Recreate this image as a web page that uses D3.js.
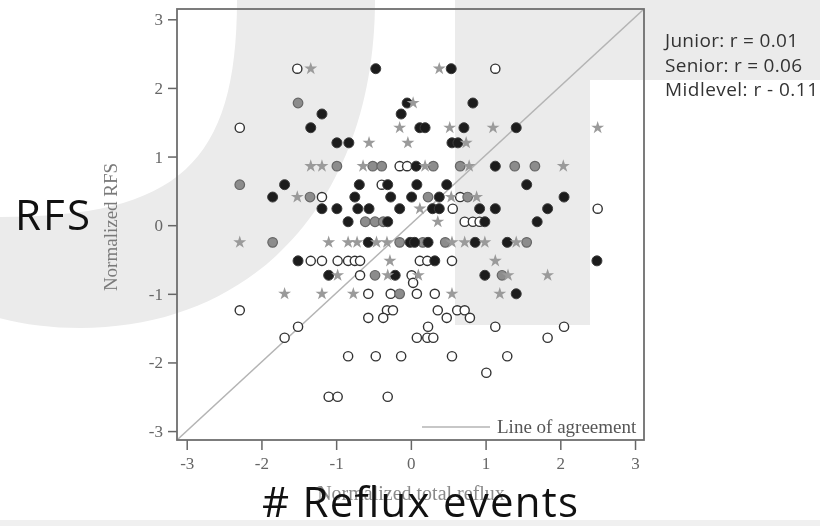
<!DOCTYPE html>
<html>
<head>
<meta charset="utf-8">
<script src="https://cdn.jsdelivr.net/npm/d3@7"></script>
<style>
  body { margin: 0; background: #fff; }
  svg { display: block; }
</style>
</head>
<body>
<svg id="chart" width="820" height="526"></svg>
<script>
// values (normalized total reflux, normalized RFS)
var openPts = [
  [-1.52, 2.28], [1.13, 2.28], [-2.29, 1.42],
  [-0.15, 0.86], [-0.05, 0.86], [-0.39, 0.59], [-1.19, 0.41], [0.66, 0.41],
  [0.56, 0.24], [2.50, 0.24], [0.72, 0.05], [0.83, 0.05], [0.92, 0.05],
  [-1.34, -0.52], [-1.19, -0.52], [-0.98, -0.52], [-0.84, -0.52], [-0.75, -0.52],
  [-0.68, -0.52], [0.12, -0.52], [0.22, -0.52], [0.55, -0.52],
  [-0.68, -0.73], [0.01, -0.73], [0.03, -0.84],
  [-0.57, -1.0], [-0.27, -1.0], [0.08, -1.0], [0.32, -1.0],
  [-2.29, -1.24], [-0.32, -1.24], [-0.24, -1.24], [0.36, -1.24], [0.62, -1.24], [0.72, -1.24],
  [-0.57, -1.35], [-0.37, -1.35], [0.48, -1.35], [0.79, -1.35],
  [-1.51, -1.48], [0.23, -1.48], [1.13, -1.48], [2.05, -1.48],
  [-1.69, -1.64], [0.08, -1.64], [0.22, -1.64], [0.30, -1.64], [1.83, -1.64],
  [-0.84, -1.91], [-0.47, -1.91], [-0.13, -1.91], [0.55, -1.91], [1.29, -1.91],
  [1.01, -2.15], [-1.10, -2.5], [-0.98, -2.5], [-0.31, -2.5]
];

var darkPts = [
  [-0.47, 2.28], [0.54, 2.28], [-0.05, 1.78], [0.83, 1.78],
  [-1.19, 1.62], [-0.13, 1.62],
  [-1.34, 1.42], [0.12, 1.42], [0.19, 1.42], [0.71, 1.42], [1.41, 1.42],
  [-0.99, 1.20], [-0.83, 1.20], [0.55, 1.20], [0.63, 1.20],
  [0.07, 0.86], [1.13, 0.86],
  [-1.69, 0.59], [-0.69, 0.59], [-0.31, 0.59], [0.08, 0.59], [0.48, 0.59], [1.55, 0.59],
  [-1.85, 0.41], [-0.75, 0.41], [-0.27, 0.41], [0.01, 0.41], [0.38, 0.41], [2.05, 0.41],
  [-1.19, 0.24], [-0.99, 0.24], [-0.71, 0.24], [-0.56, 0.24], [-0.15, 0.24], [0.29, 0.24],
  [0.38, 0.24], [0.92, 0.24], [1.13, 0.24], [1.83, 0.24],
  [-0.84, 0.05], [-0.31, 0.05], [0.99, 0.05], [1.69, 0.05],
  [-0.57, -0.25], [-0.01, -0.25], [0.05, -0.25], [0.23, -0.25], [0.86, -0.25], [1.29, -0.25],
  [-1.51, -0.52], [0.32, -0.52], [2.49, -0.52],
  [-1.10, -0.73], [-0.21, -0.73], [0.99, -0.73], [1.41, -1.0]
];

var greyPts = [
  [-1.51, 1.78],
  [-0.99, 0.86], [-0.51, 0.86], [-0.39, 0.86], [0.30, 0.86], [0.66, 0.86], [1.39, 0.86], [1.66, 0.86],
  [-2.29, 0.59], [-1.35, 0.41], [0.23, 0.41], [0.76, 0.41],
  [-0.61, 0.05], [-0.48, 0.05], [-0.37, 0.05],
  [-1.85, -0.25], [-0.15, -0.25], [0.16, -0.25], [0.46, -0.25], [1.55, -0.25],
  [-0.48, -0.73], [1.22, -0.73], [-0.15, -1.0]
];

var starPts = [
  [-1.34, 2.28], [0.38, 2.28], [0.03, 1.78],
  [-0.15, 1.42], [0.52, 1.42], [1.10, 1.42], [2.50, 1.42],
  [-0.56, 1.20], [-0.04, 1.20], [0.74, 1.20],
  [-1.34, 0.86], [-1.19, 0.86], [-0.64, 0.86], [0.19, 0.86], [0.78, 0.86], [2.04, 0.86],
  [-1.52, 0.41], [0.54, 0.41], [0.88, 0.41], [0.12, 0.24], [0.36, 0.05],
  [-2.29, -0.25], [-1.10, -0.25], [-0.84, -0.25], [-0.72, -0.25], [-0.46, -0.25], [-0.32, -0.25],
  [0.55, -0.25], [0.72, -0.25], [0.99, -0.25], [1.41, -0.25],
  [-0.28, -0.52], [1.13, -0.52],
  [-0.98, -0.73], [-0.31, -0.73], [0.10, -0.73], [1.30, -0.73], [1.83, -0.73],
  [-1.69, -1.0], [-1.19, -1.0], [-0.77, -1.0], [0.55, -1.0], [1.19, -1.0]
];

var xTicks = [-3, -2, -1, 0, 1, 2, 3];
var yTicks = [-3, -2, -1, 0, 1, 2, 3];
var corrLines = ["Junior: r = 0.01", "Senior: r = 0.06", "Midlevel: r - 0.11"];

var svg = d3.select('#chart');

// faint logo shapes behind everything
svg.append('path')
  .attr('d', 'M375,0 C375,197 257,328 80,328 C-97,328 -215,197 -215,0 Z ' +
             'M237,0 C237,163 178,217 0,217 C-178,217 -237,163 -237,0 Z')
  .attr('fill', '#ebebeb')
  .attr('fill-rule', 'evenodd');
svg.append('rect').attr('x', 455).attr('y', 0).attr('width', 365).attr('height', 80).attr('fill', '#ebebeb');
svg.append('rect').attr('x', 455).attr('y', 0).attr('width', 135).attr('height', 325).attr('fill', '#ebebeb');
svg.append('rect').attr('x', 0).attr('y', 520).attr('width', 820).attr('height', 6).attr('fill', '#f0f0f0');

var defs = svg.append('defs');
defs.append('filter').attr('id', 'soft')
  .append('feGaussianBlur').attr('stdDeviation', 0.55);

var x = d3.scaleLinear().domain([-3.13, 3.12]).range([177, 644]);
var y = d3.scaleLinear().domain([-3.13, 3.15]).range([440, 9]);

var chart = svg.append('g').attr('filter', 'url(#soft)');

// axes (ticks only, frame drawn below)
var xAxis = chart.append('g')
  .attr('transform', 'translate(0,440)')
  .call(d3.axisBottom(x).tickValues(xTicks).tickSize(10).tickPadding(7).tickFormat(function (d) { return String(d); }));
var yAxis = chart.append('g')
  .attr('transform', 'translate(177,0)')
  .call(d3.axisLeft(y).tickValues(yTicks).tickSize(9).tickPadding(5).tickFormat(function (d) { return String(d); }));

[xAxis, yAxis].forEach(function (ax) {
  ax.select('.domain').remove();
  ax.selectAll('line').attr('stroke', '#666').attr('stroke-width', 1.5);
  ax.selectAll('text')
    .attr('fill', '#666')
    .style('font-family', '"Liberation Serif", "DejaVu Serif", serif')
    .style('font-size', '17px');
});

// line of agreement
chart.append('line')
  .attr('x1', x(x.domain()[0])).attr('y1', y(y.domain()[0]))
  .attr('x2', x(x.domain()[1])).attr('y2', y(y.domain()[1]))
  .attr('stroke', '#b4b4b4')
  .attr('stroke-width', 1.6);

// plot frame
chart.append('rect')
  .attr('x', 177).attr('y', 9)
  .attr('width', 467).attr('height', 431)
  .attr('fill', 'none')
  .attr('stroke', '#6e6e6e')
  .attr('stroke-width', 1.8);

var marks = chart.append('g');

marks.selectAll('.open-dot')
  .data(openPts).enter().append('circle')
  .attr('class', 'open-dot')
  .attr('cx', function (d) { return x(d[0]); })
  .attr('cy', function (d) { return y(d[1]); })
  .attr('r', 4.6)
  .attr('fill', '#fff')
  .attr('stroke', '#333')
  .attr('stroke-width', 1.4);

marks.selectAll('.grey-dot')
  .data(greyPts).enter().append('circle')
  .attr('class', 'grey-dot')
  .attr('cx', function (d) { return x(d[0]); })
  .attr('cy', function (d) { return y(d[1]); })
  .attr('r', 4.8)
  .attr('fill', '#8c8c8c')
  .attr('stroke', '#666')
  .attr('stroke-width', 1.2);

marks.selectAll('.dark-dot')
  .data(darkPts).enter().append('circle')
  .attr('class', 'dark-dot')
  .attr('cx', function (d) { return x(d[0]); })
  .attr('cy', function (d) { return y(d[1]); })
  .attr('r', 5)
  .attr('fill', '#1e1e1e')
  .attr('stroke', '#3a3a3a')
  .attr('stroke-width', 1);

marks.selectAll('.star-dot')
  .data(starPts).enter().append('path')
  .attr('class', 'star-dot')
  .attr('d', d3.symbol().type(d3.symbolStar).size(52))
  .attr('transform', function (d) { return 'translate(' + x(d[0]) + ',' + y(d[1]) + ')'; })
  .attr('fill', '#9a9a9a');

// legend
chart.append('line')
  .attr('x1', 422).attr('x2', 490).attr('y1', 427).attr('y2', 427)
  .attr('stroke', '#b4b4b4').attr('stroke-width', 1.6);
chart.append('text')
  .attr('x', 497).attr('y', 433)
  .attr('fill', '#555')
  .style('font-family', '"Liberation Serif", serif')
  .style('font-size', '19px')
  .text('Line of agreement');

// original axis titles
chart.append('text')
  .attr('transform', 'translate(117,227) rotate(-90)')
  .attr('text-anchor', 'middle')
  .attr('fill', '#7a7a7a')
  .style('font-family', '"Liberation Serif", serif')
  .style('font-size', '19px')
  .text('Normalized RFS');
chart.append('text')
  .attr('x', 411).attr('y', 500)
  .attr('text-anchor', 'middle')
  .attr('fill', '#8a8a8a')
  .style('font-family', '"Liberation Serif", serif')
  .style('font-size', '20px')
  .text('Normalized total reflux');

// overlaid slide labels
svg.append('text')
  .attr('x', 15).attr('y', 230)
  .attr('textLength', 75)
  .attr('fill', '#111')
  .style('font-family', '"Open Sans", sans-serif')
  .style('font-size', '42px')
  .text('RFS');
svg.append('text')
  .attr('x', 262).attr('y', 517)
  .attr('textLength', 316)
  .attr('fill', '#111')
  .style('font-family', '"Open Sans", sans-serif')
  .style('font-size', '42px')
  .text('# Reflux events');

var corrWidths = [133, 137, 153];
svg.selectAll('.corr')
  .data(corrLines).enter().append('text')
  .attr('class', 'corr')
  .attr('x', 665)
  .attr('y', function (d, i) { return 47 + i * 24.5; })
  .attr('textLength', function (d, i) { return corrWidths[i]; })
  .attr('fill', '#333')
  .style('font-family', '"Open Sans", sans-serif')
  .style('font-size', '19px')
  .text(function (d) { return d; });
</script>
</body>
</html>
